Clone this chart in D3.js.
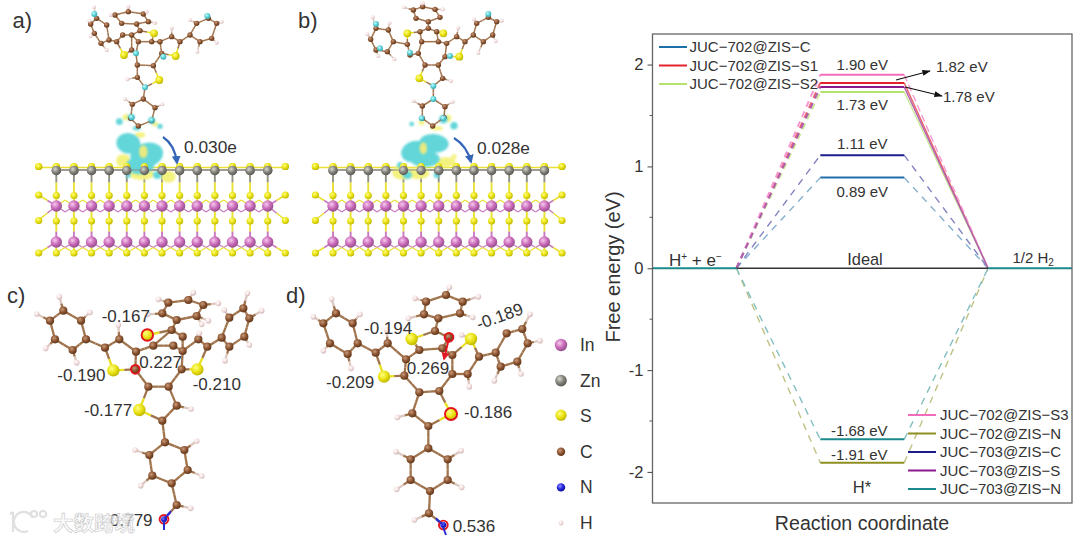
<!DOCTYPE html>
<html><head><meta charset="utf-8">
<script src="https://cdn.jsdelivr.net/npm/d3@7/dist/d3.min.js"></script>
<style>html,body{margin:0;padding:0;background:#fff}svg{display:block}text{font-family:"Liberation Sans",Arial,sans-serif;fill:#333}</style>
</head><body><svg id="c" width="1080" height="541"></svg>
<script>
// ---------- panel e data ----------
const seriesNames=["JUC-702@ZIS-C","JUC-702@ZIS-S1","JUC-702@ZIS-S2","JUC-702@ZIS-S3","JUC-702@ZIS-N","JUC-703@ZIS-C","JUC-703@ZIS-S","JUC-703@ZIS-N"];
const seriesValues=[0.89,1.82,1.73,1.90,-1.91,1.11,1.78,-1.68];
const seriesColors=["#1f6fa8","#e3202c","#b4e26c","#f26cbc","#8e8e22","#1d1d8e","#8c1a8c","#1d8a8c"];
const yTicks=[-2,-1,0,1,2];
const yMinorTicks=[-1.5,-0.5,0.5,1.5];
const valueLabels=[["1.90 eV",1.90,4.5],["1.73 eV",1.73,-18],["1.11 eV",1.11,6],["0.89 eV",0.89,-19],["-1.68 eV",-1.68,3.3],["-1.91 eV",-1.91,2.5]];
// ---------- molecule data (bond chains), in zoom units of each panel ----------
const cChains=[
[[190,92],[243,122],[258,178],[218,210],[165,178],[150,122],[190,92]],[[258,178],[315,203],[358,178],[408,215]],[[315,203],[340,271],[406,268]],
[[408,215],[460,197],[520,197],[548,213],[545,268],[506,320],[445,320],[406,268],[408,215]],
[[445,320],[418,390],[487,422],[530,377],[506,320]],[[487,422],[495,487],[553,510],[563,570],[515,610],[457,587],[448,525],[495,487]],[[515,610],[530,675],[492,718]],
[[442,165],[515,150],[548,170],[548,213]],[[460,197],[515,150],[530,120],[487,100],[505,68],[565,60],[610,75],[590,108],[530,120]],
[[548,213],[595,178],[622,200],[592,268],[545,268]],[[622,200],[665,173],[688,113],[730,85],[748,115],[733,170],[688,200],[665,173]]];
const cS=[[340,271],[418,390],[442,165],[592,268]];
const cH=[[178,50],[110,102],[270,97],[137,205],[230,248],[355,135],[573,387],[590,483],[405,510],[605,588],[422,617],[572,685],[443,103],[625,122],[655,70],[580,38],[475,58],[605,133],[598,160],[673,90],[742,40],[785,92],[748,195],[675,242]];
const cN=[[492,718]];
const cRings=[[442,165,19],[406,268,15],[492,718,15]];
const dChains=[
[[168,100],[218,130],[233,190],[203,222],[150,190],[130,130],[168,100]],[[233,190],[287,218],[323,190],[378,238],[373,287],[312,290],[287,218]],
[[378,238],[418,210],[487,205],[517,225],[517,282],[478,333],[418,337],[373,287]],
[[418,337],[397,400],[445,438],[513,402],[478,333]],[[445,438],[445,505],[503,538],[503,600],[450,633],[392,600],[392,538],[445,505]],[[450,633],[447,700],[490,735]],
[[418,210],[395,177],[465,153],[475,115],[432,103],[438,65],[498,45],[548,65],[540,100],[475,115]],[[465,153],[507,172],[487,205]],
[[517,225],[573,177],[597,230],[563,282],[517,282]],[[597,230],[647,218],[680,160],[727,147],[743,190],[712,245],[662,260],[647,218]]];
const dS=[[312,290],[395,177],[513,402],[573,177]];
const dH=[[155,57],[100,110],[240,103],[130,212],[213,265],[320,150],[352,412],[543,512],[348,515],[545,622],[350,628],[403,720],[405,55],[508,22],[595,50],[578,112],[385,115],[545,165],[568,320],[750,103],[780,182],[723,282],[643,302]];
const dN=[[490,735]];
const dRings=[[513,402,20],[507,172,15],[490,735,15]];
const aChains=[
[[272,72],[290,55],[320,75],[327,120],[303,130],[283,100],[272,72]],[[327,120],[350,125],[368,105],[395,105],[395,150],[372,165],[350,125]],[[395,150],[408,160]],
[[408,160],[415,125],[455,125],[480,125],[485,160],[460,197],[412,195],[408,160]],[[415,125],[395,105],[420,92],[462,100],[455,125]],[[420,92],[410,72]],
[[345,45],[385,35],[430,42],[445,65],[410,72],[365,70],[345,45]],
[[480,125],[515,110],[540,125],[527,168],[485,160]],[[540,125],[570,105],[590,70],[625,55],[650,70],[635,115],[600,125],[570,105]],
[[412,195],[412,232],[435,262],[478,240],[460,197]],[[435,262],[430,297],[465,323],[455,362],[415,378],[392,355],[397,313],[430,297]]];
const aS=[[372,165],[462,100],[527,168],[478,240]];
const aH=[[268,62],[282,22],[272,108],[320,150],[332,45],[385,20],[440,35],[465,68],[515,85],[570,60],[665,65],[650,128],[592,155],[382,238],[375,297],[487,313]];
const aAqua=[[283,42],[408,160],[395,352],[455,360],[490,170],[435,262],[622,48]];
const bChains=[
[[340,30],[368,20],[405,28],[420,52],[385,65],[348,55],[340,30]],[[385,65],[385,85]],[[322,100],[360,95],[385,85],[410,95],[430,100]],[[360,95],[365,125]],[[410,95],[415,125]],
[[228,85],[265,90],[280,125],[262,155],[228,150],[212,118],[228,85]],[[280,125],[322,133],[330,165],[355,160],[365,125]],[[322,133],[322,100]],
[[365,125],[415,125],[440,130],[435,170],[415,195],[375,195],[355,160]],
[[440,130],[470,110],[495,125],[478,170],[435,170]],[[495,125],[520,105],[530,70],[565,52],[590,65],[578,105],[550,125],[520,105]],
[[375,195],[358,235],[400,258],[428,235],[415,195]],[[400,258],[400,297],[435,320],[432,352],[398,378],[367,355],[367,318],[400,297]]];
const bS=[[322,100],[430,100],[478,170],[358,235]];
const bH=[[312,22],[368,10],[428,28],[218,52],[268,70],[202,102],[235,168],[283,178],[475,83],[522,58],[605,62],[587,123],[535,158],[453,243],[340,303],[458,305]];
const bAqua=[[228,72],[240,145],[330,158],[450,168],[400,258],[565,42],[400,297],[365,355],[430,355]];
// iso-surface lobes: [cx,cy,rx,ry,rotation]
const aCyan=[[385,430,36,31,10],[440,465,50,36,-15],[420,497,42,26,0],[358,365,10,10,0],[480,379,8,8,0],[393,352,10,10,0],[455,362,10,10,0],[410,385,12,6,0],[385,525,7,9,0],[472,525,13,12,0]];
const aYellow=[[370,482,22,19,0],[505,530,22,18,0],[425,522,38,18,0],[378,352,10,9,0],[465,372,9,7,0],[420,405,16,8,0]];
const aYellowTop=[[430,455,13,19,0]];
const bCyan=[[345,455,42,32,-15],[402,430,44,28,5],[375,477,44,24,0],[300,495,9,9,0],[322,525,14,12,0],[410,525,9,9,0],[430,358,13,12,0],[462,377,11,11,0],[335,372,7,7,0]];
const bYellow=[[305,517,29,22,0],[355,520,33,18,0],[438,487,29,15,0],[462,470,8,7,0],[410,385,20,6,0],[445,355,9,11,0],[365,368,9,7,0]];
const bYellowTop=[[370,445,11,18,0]];
// slab lattice
const slabColumns=d3.range(13);
const slabTopSulfur=d3.range(-1,14);
const legendAtoms=["In","Zn","S","C","N","H"];
const chargeC=[["-0.167",305,125],["0.227",418,265],["-0.190",172,303],["-0.210",578,330],["-0.177",252,408],["0.779",330,738]];
const chargeD=[["-0.194",252,163],["-0.189",597,150,-20],["0.269",380,282],["-0.209",138,325],["-0.186",552,415],["0.536",518,755]];

const svg=d3.select("#c");
const defs=svg.append("defs");
const atomStyle={In:["#f6c8ee","#c868b8","#8a4a86"],Zn:["#d8d8d0","#808078","#55554f"],S:["#ffff80","#e8e010","#b8b000"],C:["#c89a78","#8a5230","#5a3418"],N:["#9090ff","#2020d8","#101090"],H:["#ffffff","#f4dede","#c8aeb0"],Q:["#c0ffff","#58ccd2","#38a8b0"]};
Object.entries(atomStyle).forEach(([k,c])=>{const g=defs.append("radialGradient").attr("id","g"+k).attr("cx","38%").attr("cy","35%").attr("r","70%");
 [0,.55,1].forEach((o,i)=>g.append("stop").attr("offset",o).attr("stop-color",c[i]));});
defs.append("filter").attr("id","soft").append("feGaussianBlur").attr("stdDeviation",0.4);
defs.append("filter").attr("id","lobe").append("feGaussianBlur").attr("stdDeviation",0.8);
defs.append("marker").attr("id","ah").attr("viewBox","0 0 10 10").attr("refX",9).attr("refY",5).attr("markerWidth",9).attr("markerHeight",7).attr("orient","auto").append("path").attr("d","M0,1.5L10,5L0,8.5Z").attr("fill","#111");
defs.append("marker").attr("id","ahb").attr("viewBox","0 0 10 10").attr("refX",8).attr("refY",5).attr("markerWidth",4).attr("markerHeight",4).attr("orient","auto").append("path").attr("d","M0,0L10,5L0,10Z").attr("fill","#3566b8");
defs.append("marker").attr("id","ahr").attr("viewBox","0 0 10 10").attr("refX",8).attr("refY",5).attr("markerWidth",4).attr("markerHeight",4).attr("orient","auto").append("path").attr("d","M0,0L10,5L0,10Z").attr("fill","#e01a22");

const bondCol={C:"#a0744e",S:"#e8e020",H:"#dcc8c0",N:"#2a2ad0",Q:"#a0744e"};
function molecule(ox,oy,chains,lists,opt){
 const sx=d3.scaleLinear().domain([0,3]).range([ox,ox+1]), sy=d3.scaleLinear().domain([0,3]).range([oy,oy+1]);
 const g=svg.append("g").attr("filter","url(#soft)");
 const key=p=>p[0]+","+p[1];
 const typed=new Map();
 ["S","N","Q"].forEach(t=>(lists[t]||[]).forEach(p=>typed.set(key(p),t)));
 const heavy=new Map();
 chains.forEach(c=>c.forEach(p=>heavy.set(key(p),{x:p[0],y:p[1],t:typed.get(key(p))||"C"})));
 (lists.S||[]).forEach(p=>{if(!heavy.has(key(p)))heavy.set(key(p),{x:p[0],y:p[1],t:"S"});});
 const heavyAtoms=[...heavy.values()];
 const bonds=[];
 chains.forEach(c=>d3.pairs(c).forEach(([p,q])=>bonds.push([heavy.get(key(p)),heavy.get(key(q))])));
 const hAtoms=(lists.H||[]).map(p=>({x:p[0],y:p[1],t:"H"}));
 hAtoms.forEach(h=>bonds.push([h,d3.least(heavyAtoms,a=>Math.hypot(a.x-h.x,a.y-h.y))]));
 const extra=(lists.Q||[]).filter(p=>!heavy.has(key(p))).map(p=>({x:p[0],y:p[1],t:"Q"}));
 g.selectAll(null).data(bonds.flatMap(([a,b])=>[[a,b],[b,a]])).join("line")
  .attr("x1",d=>sx(d[0].x)).attr("y1",d=>sy(d[0].y)).attr("x2",d=>sx((d[0].x+d[1].x)/2)).attr("y2",d=>sy((d[0].y+d[1].y)/2))
  .attr("stroke",d=>bondCol[d[0].t]).attr("stroke-width",opt.bw);
 g.selectAll(null).data([...heavyAtoms,...hAtoms,...extra]).join("circle").attr("cx",d=>sx(d.x)).attr("cy",d=>sy(d.y))
  .attr("r",d=>opt.r[d.t]).attr("fill",d=>`url(#g${d.t})`);
}
function lobes(ox,oy,data,color){
 const sx=d3.scaleLinear().domain([0,3]).range([ox,ox+1]), sy=d3.scaleLinear().domain([0,3]).range([oy,oy+1]);
 svg.append("g").attr("filter","url(#lobe)").selectAll("ellipse").data(data).join("ellipse")
  .attr("rx",d=>d[2]/3).attr("ry",d=>d[3]/3)
  .attr("transform",d=>`translate(${sx(d[0])},${sy(d[1])}) rotate(${d[4]})`)
  .attr("fill",color);
}
function slab(x0){
 const col=d3.scaleLinear().domain([0,12]).range([x0,x0+211.4]);
 const g=svg.append("g").attr("filter","url(#soft)");
 const seg=(x1,y1,x2,y2,c,w)=>g.append("line").attr("x1",x1).attr("y1",y1).attr("x2",x2).attr("y2",y2).attr("stroke",c).attr("stroke-width",w||1.5);
 const two=(x1,y1,x2,y2,c1,c2,w)=>{const mx=(x1+x2)/2,my=(y1+y2)/2;seg(x1,y1,mx,my,c1,w);seg(mx,my,x2,y2,c2,w);};
 const Y="#e8e030",P="#c878c0",G="#909088";
 seg(col(-1),167.5,col(13),167.5,Y,1.4);seg(col(0),170,col(12),170,G,1.3);
 slabColumns.forEach(i=>{
  two(col(i),170,col(i),195,G,Y,1.9);
  seg(col(i),195,col(i),221,Y,1.9);
  two(col(i),221,col(i),242,Y,P,1.9);
  seg(col(i),242,col(i),253,Y,1.9);
  if(i<12){two(col(i),206,col(i+.5),200,P,Y,1.1);two(col(i+1),206,col(i+.5),200,P,Y,1.1);
   two(col(i),206,col(i+.5),212,Y,P,1.1);two(col(i+1),206,col(i+.5),212,Y,P,1.1);
   two(col(i),242,col(i+1),253,P,Y,1.1);two(col(i+1),242,col(i),253,P,Y,1.1);}
 });
 [[-1,0],[13,12]].forEach(([a,b])=>{two(col(a),195,col(b),206,Y,P);two(col(a),220,col(b),206,Y,P);two(col(a),253,col(b),242,Y,P);});
 const ball=(x,y,r,t)=>g.append("circle").attr("cx",x).attr("cy",y).attr("r",r).attr("fill",`url(#g${t})`);
 [-1,13].forEach(i=>{ball(col(i),166.5,3.6,"S");ball(col(i),195,3.6,"S");ball(col(i),220.5,3.6,"S");ball(col(i),253,3.6,"S");});
 slabColumns.forEach(i=>{
  ball(col(i),166.5,3.6,"S");ball(col(i),170.5,4.7,"Zn");
  ball(col(i),195.5,3.6,"S");ball(col(i),221,3.6,"S");ball(col(i),206,5.7,"In");
  ball(col(i),253,3.6,"S");ball(col(i),242,5.7,"In");
 });
}
function slabFront(x0){
 const col=d3.scaleLinear().domain([0,12]).range([x0,x0+211.4]);
 const g=svg.append("g").attr("filter","url(#soft)");
 g.append("line").attr("x1",col(0)).attr("x2",col(12)).attr("y1",170).attr("y2",170).attr("stroke","#909088").attr("stroke-width",1.2);
 g.selectAll(null).data(slabTopSulfur).join("circle").attr("cx",d=>col(d)).attr("cy",166.5).attr("r",3.6).attr("fill","url(#gS)");
 g.selectAll(null).data(slabColumns).join("circle").attr("cx",d=>col(d)).attr("cy",170.5).attr("r",4.7).attr("fill","url(#gZn)");
}
function labelText(t,x,y,size,anchor){return svg.append("text").attr("x",x).attr("y",y).attr("font-size",size).attr("text-anchor",anchor||"start").text(t);}

// ---------- panel a / b ----------
slab(56.3);
lobes(0,0,aYellow,"#f4f27e");lobes(0,0,aCyan,"#62d6d9");lobes(0,0,aYellowTop,"#e8ea80");
molecule(0,0,aChains,{S:aS,H:aH,Q:aAqua},{bw:1.5,r:{C:2.7,S:3.9,H:2,Q:3}});
slabFront(56.3);
slab(333);
lobes(300,0,bYellow,"#f4f27e");lobes(300,0,bCyan,"#62d6d9");lobes(300,0,bYellowTop,"#e8ea80");
molecule(300,0,bChains,{S:bS,H:bH,Q:bAqua},{bw:1.5,r:{C:2.7,S:3.9,H:2,Q:3}});
slabFront(333);
const blueArc=d3.path();blueArc.moveTo(163,137);blueArc.quadraticCurveTo(175,145,177,163);
svg.append("path").attr("d",blueArc.toString()).attr("fill","none").attr("stroke","#3566b8").attr("stroke-width",2.2).attr("marker-end","url(#ahb)");
const blueArc2=d3.path();blueArc2.moveTo(454,138);blueArc2.quadraticCurveTo(467,146,471,162);
svg.append("path").attr("d",blueArc2.toString()).attr("fill","none").attr("stroke","#3566b8").attr("stroke-width",2.2).attr("marker-end","url(#ahb)");
labelText("0.030e",184,153,17.3);labelText("0.028e",477,154,17.3);
labelText("a)",12.5,28,22);labelText("b)",298,28,22);labelText("c)",7,303,22);labelText("d)",286,303,22);

// ---------- panel c / d ----------
function charges(ox,oy,list){list.forEach(([t,x,y,rot])=>{const px=ox+x/3,py=oy+y/3;
 const e=labelText(t,px,py,17);if(rot)e.attr("transform",`rotate(${rot},${px},${py})`);});}
function rings(ox,oy,list){svg.append("g").selectAll("circle").data(list).join("circle").attr("cx",d=>ox+d[0]/3).attr("cy",d=>oy+d[1]/3).attr("r",d=>d[2]/3-.6).attr("fill","none").attr("stroke","#e3141c").attr("stroke-width",1.9);}
molecule(0,280,cChains,{S:cS,H:cH,N:cN},{bw:2.3,r:{C:4.1,S:6.2,H:2.8,N:3}});
rings(0,280,cRings);
svg.append("line").attr("x1",164).attr("y1",520).attr("x2",164).attr("y2",530).attr("stroke","#2a2ad0").attr("stroke-width",2);
svg.append("line").attr("x1",164).attr("y1",519).attr("x2",171).attr("y2",511).attr("stroke","#2a2ad0").attr("stroke-width",1.6);
charges(0,280,chargeC);
molecule(280,280,dChains,{S:dS,H:dH,N:dN},{bw:2.3,r:{C:4.1,S:6.2,H:2.8,N:3}});
rings(280,280,dRings);
svg.append("line").attr("x1",443).attr("y1",527).attr("x2",446).attr("y2",535).attr("stroke","#2a2ad0").attr("stroke-width",2);
svg.append("line").attr("x1",443).attr("y1",525).attr("x2",436).attr("y2",518).attr("stroke","#2a2ad0").attr("stroke-width",1.6);
svg.append("line").attr("x1",449).attr("y1",338).attr("x2",444).attr("y2",359).attr("stroke","#e3141c").attr("stroke-width",2).attr("marker-end","url(#ahr)");
charges(280,280,chargeD);

// legend atoms
const legY=d3.scalePoint().domain(legendAtoms).range([345,523]);
const legR={In:6.2,Zn:5.8,S:5.6,C:4.2,N:4.2,H:2.4};
svg.append("g").selectAll("circle").data(legendAtoms).join("circle").attr("cx",561).attr("cy",d=>legY(d)-(d=="S"?1:0)).attr("r",d=>legR[d]).attr("fill",d=>`url(#g${d})`);
svg.append("g").selectAll("text").data(legendAtoms).join("text").attr("x",580).attr("y",d=>legY(d)+6).attr("font-size",17.5).text(d=>d);

// ---------- panel e ----------
const x=d3.scaleLinear().domain([0,5]).range([652.5,1072]);
const y=d3.scaleLinear().domain([-2.305,2.30]).range([503,34]);
const series=seriesNames.map((n,i)=>({n,v:seriesValues[i],c:seriesColors[i]}));
const e=svg.append("g").attr("filter","url(#soft)");
const dashLine=d3.line();
series.forEach(s=>{
 const up=s.v>1.5;
 const lite=d3.interpolateRgb(s.c,"#fff")(up?.3:.45);
 e.append("path").attr("d",dashLine([[x(1),y(0)],[x(2),y(s.v)]])).attr("fill","none").attr("stroke",lite).attr("stroke-width",up?2:1.4).attr("stroke-dasharray",up?"6,5":"7,6");
 e.append("path").attr("d",dashLine([[x(3),y(s.v)],[x(4),y(0)]])).attr("fill","none").attr("stroke",lite).attr("stroke-width",1.4).attr("stroke-dasharray",up&&s.n.endsWith("S3")?"7,4":(up?null:"7,6"));
 e.append("line").attr("x1",x(2)).attr("x2",x(3)).attr("y1",y(s.v)).attr("y2",y(s.v)).attr("stroke",s.c).attr("stroke-width",2);
});
e.append("line").attr("x1",x(1)).attr("x2",x(4)).attr("y1",y(0)).attr("y2",y(0)).attr("stroke","#333").attr("stroke-width",1.6);
[[0,1],[4,5]].forEach(([a,b])=>e.append("line").attr("x1",x(a)).attr("x2",x(b)).attr("y1",y(0)).attr("y2",y(0)).attr("stroke","#1d8a8c").attr("stroke-width",1.8));
svg.append("rect").attr("x",x(0)).attr("y",y(2.30)).attr("width",x(5)-x(0)).attr("height",y(-2.305)-y(2.30)).attr("fill","none").attr("stroke","#666").attr("stroke-width",1.3);
const axis=svg.append("g").attr("transform",`translate(${x(0)},0)`).call(d3.axisLeft(y).tickValues(yTicks).tickSize(5).tickPadding(4).tickFormat(d=>String(d)));
axis.select(".domain").remove();axis.selectAll("line").attr("stroke","#555").attr("stroke-width",1.1);
axis.selectAll("text").attr("font-size",16.5).attr("font-family","Liberation Sans").attr("fill","#333");
svg.append("g").selectAll("line").data(yMinorTicks).join("line").attr("x1",x(0)-3).attr("x2",x(0)).attr("y1",d=>y(d)).attr("y2",d=>y(d)).attr("stroke","#555");
svg.append("text").attr("transform",`translate(620,267) rotate(-90)`).attr("text-anchor","middle").attr("font-size",20).text("Free energy (eV)");
labelText("Reaction coordinate",862,530,19.6,"middle");
valueLabels.forEach(([t,v,off])=>{const mx=(x(2)+x(3))/2-(v<0?3:0);
 labelText(t,mx,y(v)-off,15,"middle");});
labelText("1.82 eV",936,72,15);labelText("1.78 eV",943,102,15);
svg.append("line").attr("x1",896).attr("y1",80).attr("x2",930).attr("y2",71).attr("stroke","#111").attr("stroke-width",1.2).attr("marker-end","url(#ah)");
svg.append("line").attr("x1",905).attr("y1",87).attr("x2",942).attr("y2",96).attr("stroke","#111").attr("stroke-width",1.2).attr("marker-end","url(#ah)");
labelText("Ideal",865,265,16.4,"middle");
const hp=labelText("H",669,266,17);hp.append("tspan").attr("font-size",10).attr("dy",-6).text("+");hp.append("tspan").attr("dy",6).text(" + e");hp.append("tspan").attr("font-size",10).attr("dy",-6).text("−");
const h2=labelText("1/2 H",1012.5,263,15);h2.append("tspan").attr("font-size",10).attr("dy",3).text("2");
labelText("H*",862,493,16.5,"middle");
// legends
const firstLegend=series.slice(0,3), secondLegend=series.slice(3);
const ly1=d3.scalePoint().domain(firstLegend.map(d=>d.n)).range([47,84]);
const ly2=d3.scalePoint().domain(secondLegend.map(d=>d.n)).range([415,489]);
const lg=svg.append("g").attr("filter","url(#soft)");
firstLegend.forEach(s=>{lg.append("line").attr("x1",659).attr("x2",687).attr("y1",ly1(s.n)).attr("y2",ly1(s.n)).attr("stroke",s.c).attr("stroke-width",2);
 svg.append("text").attr("x",689.5).attr("y",ly1(s.n)+5).attr("font-size",15).text(s.n.replace("-","−").replace("-","−"));});
secondLegend.forEach(s=>{lg.append("line").attr("x1",908).attr("x2",936).attr("y1",ly2(s.n)).attr("y2",ly2(s.n)).attr("stroke",s.c).attr("stroke-width",2);
 svg.append("text").attr("x",940).attr("y",ly2(s.n)+5).attr("font-size",15).text(s.n.replace("-","−").replace("-","−"));});

// watermark
const wm=svg.append("g").attr("fill","none").attr("stroke","#e0e0e0").attr("stroke-width",2.2);
wm.append("path").attr("d","M13,512 L13,532 M10,514 L13,512 M33,518 A10,10 0 1 0 28,531");
wm.append("circle").attr("cx",34).attr("cy",514).attr("r",3);wm.append("circle").attr("cx",43).attr("cy",514).attr("r",3.2);
svg.append("text").attr("x",53).attr("y",531).style("font-family","'Noto Sans CJK SC'").attr("font-size",20.5).attr("font-weight",700).style("fill","#fafafa").style("fill-opacity",.7).attr("stroke","#c8c8c8").attr("stroke-width",.6).text("大数跨境");
</script></body></html>
